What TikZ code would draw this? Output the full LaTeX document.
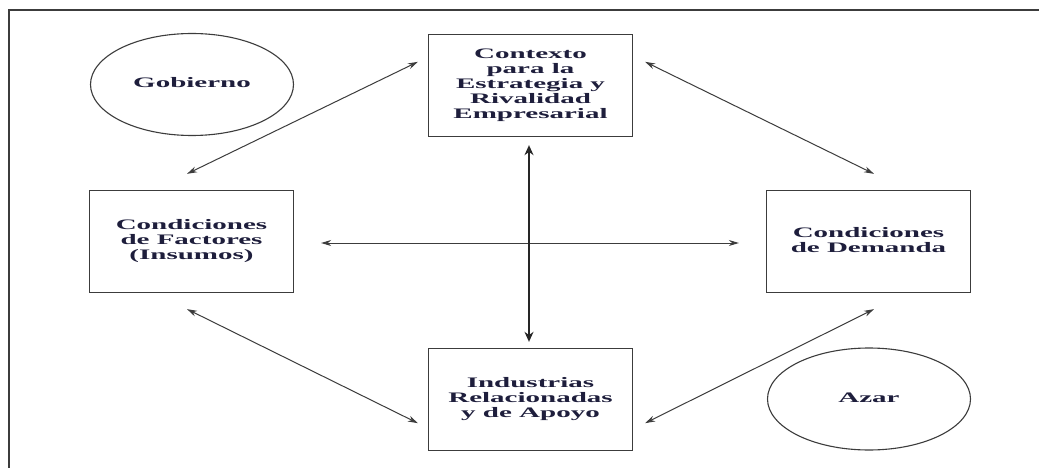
\documentclass[tikz,border=0pt]{standalone}
\usepackage{fontspec}
\setmainfont{Liberation Serif}
\usepackage{graphicx}
\usetikzlibrary{arrows.meta,calc,shapes.geometric}
\definecolor{ink}{RGB}{30,30,60}
\definecolor{edge}{RGB}{60,60,60}
\newcommand\lbl[1]{\scalebox{2}[1]{\fontsize{14.5}{15}\selectfont\bfseries\begin{tabular}{@{}c@{}}#1\end{tabular}}}
\tikzset{
  boxnode/.style={draw=edge, line width=1.3pt, minimum width=204pt, minimum height=102pt, inner sep=0pt, text=ink},
  ovalnode/.style={draw=edge, line width=1.1pt, ellipse, minimum width=203pt, minimum height=102pt, inner sep=0pt, text=ink},
  link/.style={draw=edge, line width=1pt, {Stealth[length=10pt,width=6pt]}-{Stealth[length=10pt,width=6pt]}},
  biglink/.style={draw=black!85, line width=2pt, {Stealth[length=10pt,width=9pt]}-{Stealth[length=10pt,width=9pt]}},
  framestyle/.style={draw=edge, line width=1.5pt}
}
\begin{document}
\begin{tikzpicture}[x=1pt,y=-1pt]
\useasboundingbox (0,0) rectangle (1039,468);
\fill[white] (0,0) rectangle (1039,468);
% frame
\coordinate (f1) at (9,468);
\coordinate (f2) at (9,10);
\coordinate (f3) at (1039,10);
\draw[framestyle] (f1) -- (f2) -- (f3);
% nodes
\node[boxnode] (T) at (530.5,85.5) {\lbl{Contexto\\para la\\Estrategia y\\Rivalidad\\Empresarial}};
\node[boxnode] (L) at (191.5,241.5) {\lbl{Condiciones\\de Factores\\(Insumos)}};
\node[boxnode] (R) at (868.5,241.5) {\lbl{Condiciones\\de Demanda}};
\node[boxnode] (B) at (530.5,399.5) {\lbl{Industrias\\Relacionadas\\y de Apoyo}};
\node[ovalnode] (G) at (192,84.5) {\lbl{Gobierno}};
\node[ovalnode] (A) at (869,399) {\lbl{Azar}};
% connectors
\draw[link] ($(T.north west)+(-10,28)$) -- ($(L.north)+(-4.5,-16)$);
\draw[link] ($(T.north east)+(12,28)$) -- ($(R.north)+(5.5,-16)$);
\draw[link] ($(L.south)+(-4.5,16)$) -- ($(B.south west)+(-10,-28)$);
\draw[link] ($(B.south east)+(12,-28)$) -- ($(R.south)+(5.5,16)$);
\draw[link] ($(L.east)+(27,1.5)$) -- ($(R.west)+(-27,1.5)$);
\draw[biglink] ($(T.south)+(-1.5,8)$) -- ($(B.north)+(-1.5,-6)$);
\end{tikzpicture}
\end{document}
